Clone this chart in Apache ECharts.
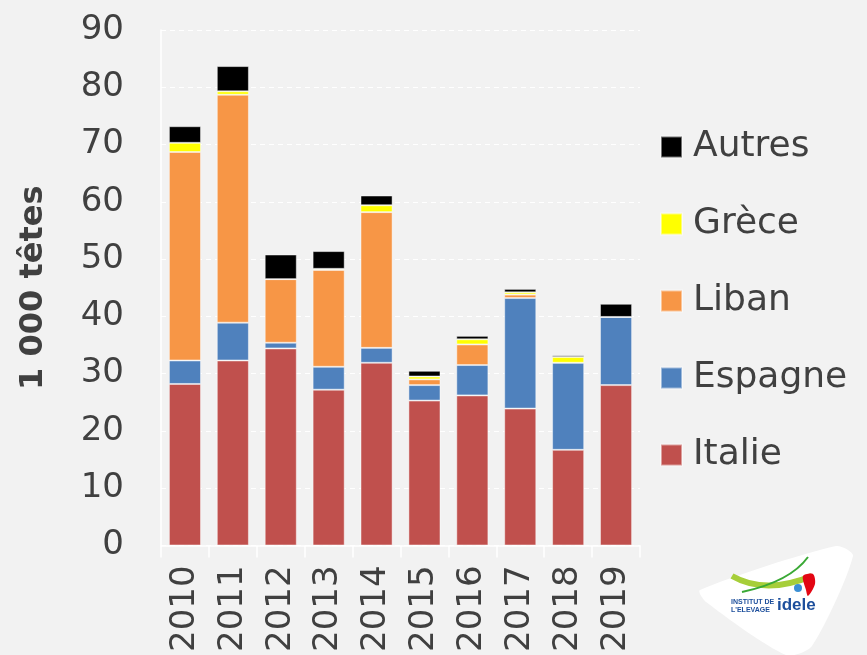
<!DOCTYPE html>
<html>
<head>
<meta charset="utf-8">
<script src="https://cdn.jsdelivr.net/npm/echarts@6/dist/echarts.min.js"></script>
<style>
  html, body { margin: 0; padding: 0; background: #f2f2f2; overflow: hidden; }
  #main { width: 867px; height: 655px; }
</style>
</head>
<body>
<div id="main"></div>
<script>
// annees
var annees = ['2010', '2011', '2012', '2013', '2014', '2015', '2016', '2017', '2018', '2019'];
// valeurs en 1 000 tetes
var italie  = [28.2, 32.3, 34.4, 27.2, 31.9, 25.3, 26.2, 23.9, 16.7, 28.0];
var espagne = [4.1, 6.6, 1.0, 4.0, 2.6, 2.7, 5.3, 19.3, 15.2, 11.9];
var liban   = [36.4, 39.8, 11.1, 16.9, 23.7, 1.0, 3.6, 0.6, 0, 0];
var grece   = [1.6, 0.6, 0, 0.2, 1.2, 0.5, 0.9, 0.4, 1.0, 0];
var autres  = [2.9, 4.4, 4.3, 3.1, 1.7, 1.0, 0.6, 0.6, 0.3, 2.3];
var yTicks  = [0, 10, 20, 30, 40, 50, 60, 70, 80, 90];

var police = '"DejaVu Sans", "Liberation Sans", sans-serif';
var gris = '#404040';

var myChart = echarts.init(document.getElementById('main'), null, { renderer: 'canvas' });

function serie(nom, data, couleur) {
	return {
		name: nom,
		type: 'bar',
		stack: 'total',
		barCategoryGap: '33%',
		data: data,
		itemStyle: {
			color: couleur,
			borderColor: 'rgba(255,255,255,0.45)',
			borderWidth: 1
		}
	};
}

var option = {
	backgroundColor: '#f2f2f2',
	animation: false,
	grid: {
		left: 161,
		right: 227,
		top: 30,
		bottom: 107
	},
	legend: {
		orient: 'vertical',
		left: 655,
		top: 124,
		itemWidth: 21,
		itemHeight: 21,
		itemGap: 41,
		icon: 'rect',
		data: ['Autres', 'Grèce', 'Liban', 'Espagne', 'Italie'],
		textStyle: {
			fontFamily: police,
			fontSize: 36,
			color: gris,
			padding: [0, 0, 0, 6]
		}
	},
	xAxis: {
		type: 'category',
		data: annees,
		axisLine: { show: true, lineStyle: { color: '#ffffff', width: 1.5 } },
		axisTick: { show: true, length: 12, lineStyle: { color: '#ffffff', width: 1.5 } },
		axisLabel: {
			interval: 0,
			rotate: 90,
			margin: 20,
			fontFamily: police,
			fontSize: 34,
			color: gris
		}
	},
	yAxis: {
		type: 'value',
		min: yTicks[0],
		max: yTicks[yTicks.length - 1],
		interval: 10,
		name: '1 000 têtes',
		nameLocation: 'middle',
		nameRotate: 90,
		nameGap: 111,
		nameTextStyle: {
			fontFamily: police,
			fontSize: 32,
			fontWeight: 'bold',
			color: gris
		},
		axisLine: { show: true, lineStyle: { color: '#ffffff', width: 1.5 } },
		axisTick: { show: false },
		axisLabel: {
			margin: 37,
			fontFamily: police,
			fontSize: 34,
			color: gris
		},
		splitLine: {
			show: true,
			lineStyle: { color: '#ffffff', type: [5, 4], width: 1.2 }
		}
	},
	series: [
		serie('Italie', italie, '#c0504d'),
		serie('Espagne', espagne, '#4f81bd'),
		serie('Liban', liban, '#f79646'),
		serie('Grèce', grece, '#ffff00'),
		serie('Autres', autres, '#000000')
	],
	// logo idele en bas a droite (coordonnees absolues)
	graphic: [{
		type: 'polygon',
		shape: {
			points: [[700, 590], [836, 546], [853, 556], [812, 646], [786, 655], [706, 602]],
			smooth: 0.25
		},
		style: { fill: '#ffffff' }
	}, {
		type: 'bezierCurve',
		shape: { x1: 732, y1: 576, x2: 812, y2: 576, cpx1: 760, cpy1: 592, cpx2: 790, cpy2: 585 },
		style: { stroke: '#a6ce39', lineWidth: 6, fill: null }
	}, {
		type: 'bezierCurve',
		shape: { x1: 742, y1: 592, x2: 808, y2: 557, cpx1: 770, cpy1: 586, cpx2: 795, cpy2: 575 },
		style: { stroke: '#3aa935', lineWidth: 2, fill: null }
	}, {
		type: 'circle',
		shape: { cx: 798, cy: 588, r: 4 },
		style: { fill: '#3b8fd4' }
	}, {
		type: 'polygon',
		shape: { points: [[803, 576], [813, 574], [815, 584], [808, 596], [806, 590]], smooth: 0.3 },
		style: { fill: '#e30613' }
	}, {
		type: 'text',
		x: 731,
		y: 598,
		style: {
			text: 'INSTITUT DE\nL\'ELEVAGE',
			font: 'bold 7px "Liberation Sans", sans-serif',
			fill: '#1d4f9c',
			lineHeight: 8
		}
	}, {
		type: 'text',
		x: 777,
		y: 597,
		style: {
			text: 'idele',
			font: 'bold 17px "Liberation Sans", sans-serif',
			fill: '#1d4f9c'
		}
	}]
};

myChart.setOption(option);
</script>
</body>
</html>
